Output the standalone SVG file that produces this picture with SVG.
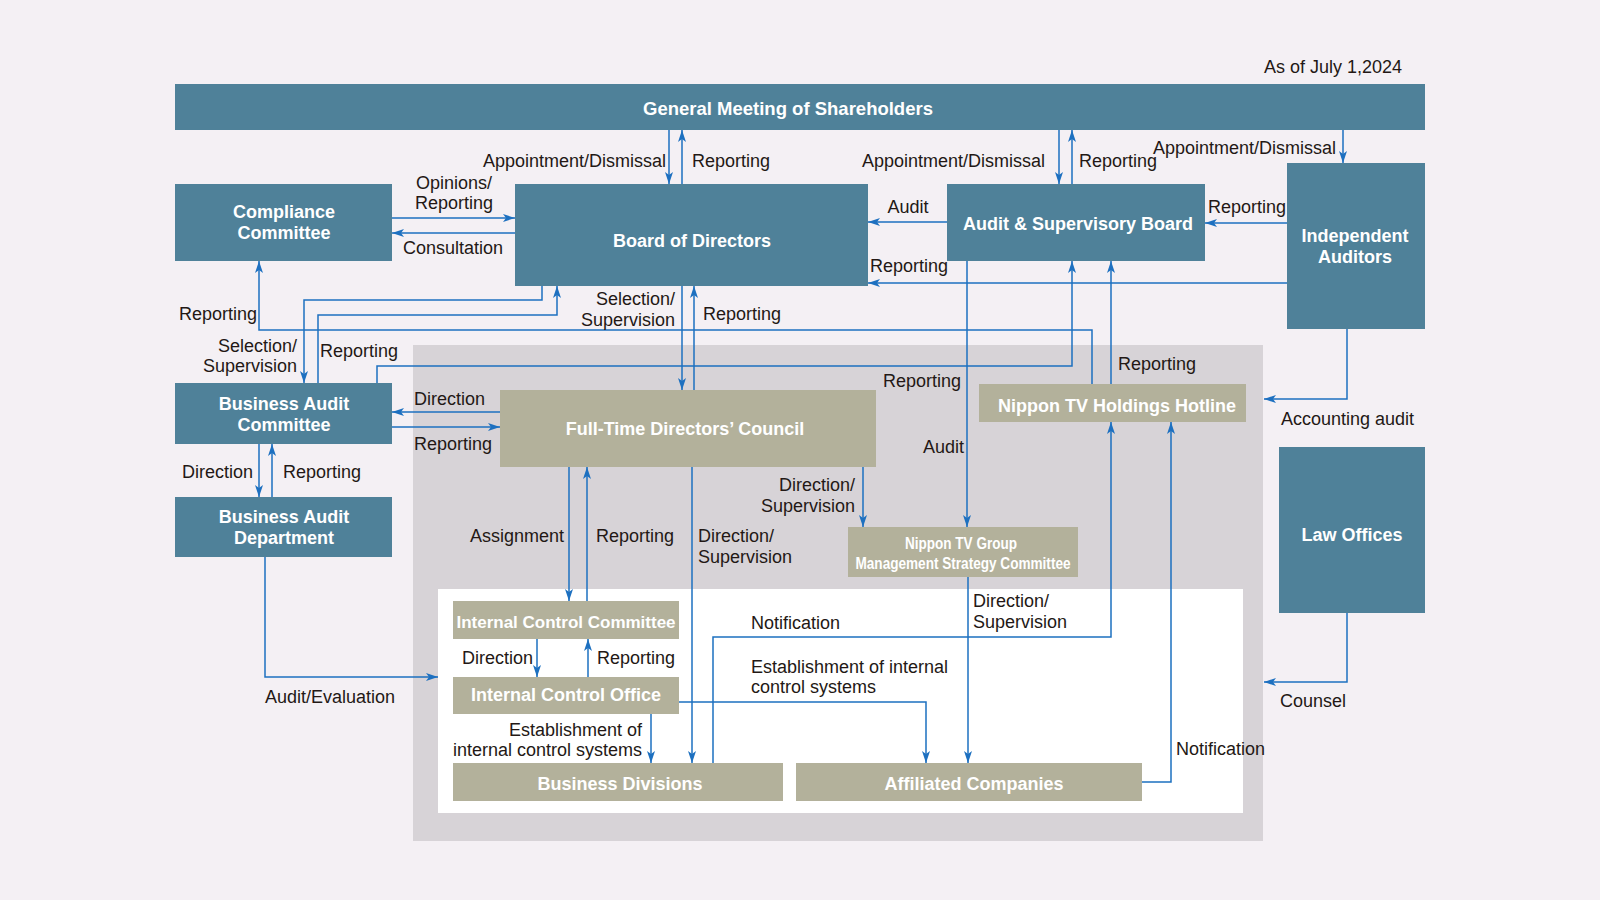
<svg xmlns="http://www.w3.org/2000/svg" width="1600" height="900" viewBox="0 0 1600 900">
<defs>
<style>
.bg{fill:#f4f0f4}
.zone{fill:#d7d3d7}
.inner{fill:#ffffff}
.blue{fill:#4f8199}
.olive{fill:#b3b19b}
.nt{font-family:"Liberation Sans",Arial,sans-serif;font-weight:bold;font-size:18px;fill:#ffffff;text-anchor:middle}
.lb{font-family:"Liberation Sans",Arial,sans-serif;font-size:18px;fill:#231815}
.end{text-anchor:end}
.mid{text-anchor:middle}
.c{fill:none;stroke:#1d70c0;stroke-width:1.5;marker-end:url(#ah)}
</style>
<marker id="ah" viewBox="0 0 12 8" refX="12" refY="4" markerWidth="12" markerHeight="8" markerUnits="userSpaceOnUse" orient="auto">
<path d="M0,0 L12,4 L0,8 L3,4 z" fill="#1d70c0"/>
</marker>
</defs>
<rect class="bg" x="0" y="0" width="1600" height="900"/>
<rect class="zone" x="413" y="345" width="850" height="496"/>
<rect class="inner" x="438" y="589" width="805" height="224"/>

<g id="general-meeting"><rect class="blue" x="175" y="84" width="1250" height="46"/><text class="nt" x="788" y="115" style="font-size:18.5px">General Meeting of Shareholders</text></g>
<g id="compliance-committee"><rect class="blue" x="175" y="184" width="217" height="77"/><text class="nt" x="284" y="218">Compliance</text><text class="nt" x="284" y="239">Committee</text></g>
<g id="board-of-directors"><rect class="blue" x="515" y="184" width="353" height="102"/><text class="nt" x="692" y="247">Board of Directors</text></g>
<g id="audit-supervisory-board"><rect class="blue" x="947" y="184" width="258" height="77"/><text class="nt" x="1078" y="230">Audit &amp; Supervisory Board</text></g>
<g id="independent-auditors"><rect class="blue" x="1287" y="163" width="138" height="166"/><text class="nt" x="1355" y="241.5">Independent</text><text class="nt" x="1355" y="262.5">Auditors</text></g>
<g id="business-audit-committee"><rect class="blue" x="175" y="383" width="217" height="61"/><text class="nt" x="284" y="410">Business Audit</text><text class="nt" x="284" y="431">Committee</text></g>
<g id="business-audit-department"><rect class="blue" x="175" y="497" width="217" height="60"/><text class="nt" x="284" y="522.5">Business Audit</text><text class="nt" x="284" y="543.5">Department</text></g>
<g id="law-offices"><rect class="blue" x="1279" y="447" width="146" height="166"/><text class="nt" x="1352" y="540.5">Law Offices</text></g>
<g id="full-time-directors-council"><rect class="olive" x="500" y="390" width="376" height="77"/><text class="nt" x="685" y="435">Full-Time Directors’ Council</text></g>
<g id="hotline"><rect class="olive" x="979" y="384" width="267" height="38"/><text class="nt" x="1117" y="411.5">Nippon TV Holdings Hotline</text></g>
<g id="management-strategy-committee"><rect class="olive" x="848" y="527" width="230" height="50"/><text class="nt" x="961" y="548.5" style="font-size:16px" textLength="112" lengthAdjust="spacingAndGlyphs">Nippon TV Group</text><text class="nt" x="963" y="569" style="font-size:16px" textLength="215" lengthAdjust="spacingAndGlyphs">Management Strategy Committee</text></g>
<g id="internal-control-committee"><rect class="olive" x="453" y="601" width="226" height="38"/><text class="nt" x="566" y="628" style="font-size:17px">Internal Control Committee</text></g>
<g id="internal-control-office"><rect class="olive" x="453" y="677" width="226" height="37"/><text class="nt" x="566" y="701">Internal Control Office</text></g>
<g id="business-divisions"><rect class="olive" x="453" y="763" width="330" height="38"/><text class="nt" x="620" y="790">Business Divisions</text></g>
<g id="affiliated-companies"><rect class="olive" x="796" y="763" width="346" height="38"/><text class="nt" x="974" y="790">Affiliated Companies</text></g>

<g id="connectors">
<path class="c" d="M669,130 V184"/>
<path class="c" d="M682,184 V130"/>
<path class="c" d="M1059,130 V184"/>
<path class="c" d="M1072,184 V130"/>
<path class="c" d="M1343,130 V163"/>
<path class="c" d="M392,218 H515"/>
<path class="c" d="M515,233 H392"/>
<path class="c" d="M947,222 H868"/>
<path class="c" d="M1287,223 H1205"/>
<path class="c" d="M1287,283 H868"/>
<path class="c" d="M542,286 V300 H304 V383"/>
<path class="c" d="M318,383 V315 H557 V286"/>
<path class="c" d="M1092,384 V330 H259 V261"/>
<path class="c" d="M377,383 V366 H1072 V261"/>
<path class="c" d="M1111,384 V261"/>
<path class="c" d="M682,286 V390"/>
<path class="c" d="M694,390 V286"/>
<path class="c" d="M967,261 V527"/>
<path class="c" d="M1347,329 V399 H1264"/>
<path class="c" d="M1347,613 V682 H1264"/>
<path class="c" d="M500,412 H392"/>
<path class="c" d="M392,427 H500"/>
<path class="c" d="M259,444 V497"/>
<path class="c" d="M272,497 V444"/>
<path class="c" d="M265,557 V677 H438"/>
<path class="c" d="M569,467 V601"/>
<path class="c" d="M587,601 V467"/>
<path class="c" d="M692,467 V763"/>
<path class="c" d="M863,467 V527"/>
<path class="c" d="M537,639 V677"/>
<path class="c" d="M588,677 V639"/>
<path class="c" d="M651,714 V763"/>
<path class="c" d="M679,702 H926 V763"/>
<path class="c" d="M968,577 V763"/>
<path class="c" d="M713,763 V637 H1111 V422"/>
<path class="c" d="M1142,782 H1171 V422"/>
</g>

<g id="labels">
<text class="lb end" x="1402" y="73">As of July 1,2024</text>
<text class="lb end" x="666" y="167">Appointment/Dismissal</text>
<text class="lb" x="692" y="167">Reporting</text>
<text class="lb end" x="1045" y="167">Appointment/Dismissal</text>
<text class="lb" x="1079" y="167">Reporting</text>
<text class="lb" x="1153" y="154">Appointment/Dismissal</text>
<text class="lb mid" x="454" y="189">Opinions/</text>
<text class="lb mid" x="454" y="209">Reporting</text>
<text class="lb" x="403" y="254">Consultation</text>
<text class="lb mid" x="908" y="213">Audit</text>
<text class="lb" x="870" y="272">Reporting</text>
<text class="lb" x="1208" y="213">Reporting</text>
<text class="lb end" x="257" y="320">Reporting</text>
<text class="lb end" x="297" y="352">Selection/</text>
<text class="lb end" x="297" y="372">Supervision</text>
<text class="lb" x="320" y="357">Reporting</text>
<text class="lb end" x="675" y="305">Selection/</text>
<text class="lb end" x="675" y="326">Supervision</text>
<text class="lb" x="703" y="320">Reporting</text>
<text class="lb" x="1118" y="370">Reporting</text>
<text class="lb" x="883" y="387">Reporting</text>
<text class="lb" x="923" y="453">Audit</text>
<text class="lb" x="1281" y="425">Accounting audit</text>
<text class="lb" x="414" y="405">Direction</text>
<text class="lb" x="414" y="450">Reporting</text>
<text class="lb end" x="253" y="478">Direction</text>
<text class="lb" x="283" y="478">Reporting</text>
<text class="lb" x="265" y="703">Audit/Evaluation</text>
<text class="lb" x="470" y="542">Assignment</text>
<text class="lb" x="596" y="542">Reporting</text>
<text class="lb" x="698" y="542">Direction/</text>
<text class="lb" x="698" y="563">Supervision</text>
<text class="lb end" x="855" y="491">Direction/</text>
<text class="lb end" x="855" y="512">Supervision</text>
<text class="lb" x="973" y="607">Direction/</text>
<text class="lb" x="973" y="628">Supervision</text>
<text class="lb" x="751" y="629">Notification</text>
<text class="lb" x="751" y="673">Establishment of internal</text>
<text class="lb" x="751" y="693">control systems</text>
<text class="lb" x="462" y="664">Direction</text>
<text class="lb" x="597" y="664">Reporting</text>
<text class="lb end" x="642" y="736">Establishment of</text>
<text class="lb end" x="642" y="756">internal control systems</text>
<text class="lb" x="1176" y="755">Notification</text>
<text class="lb" x="1280" y="707">Counsel</text>
</g>
</svg>
